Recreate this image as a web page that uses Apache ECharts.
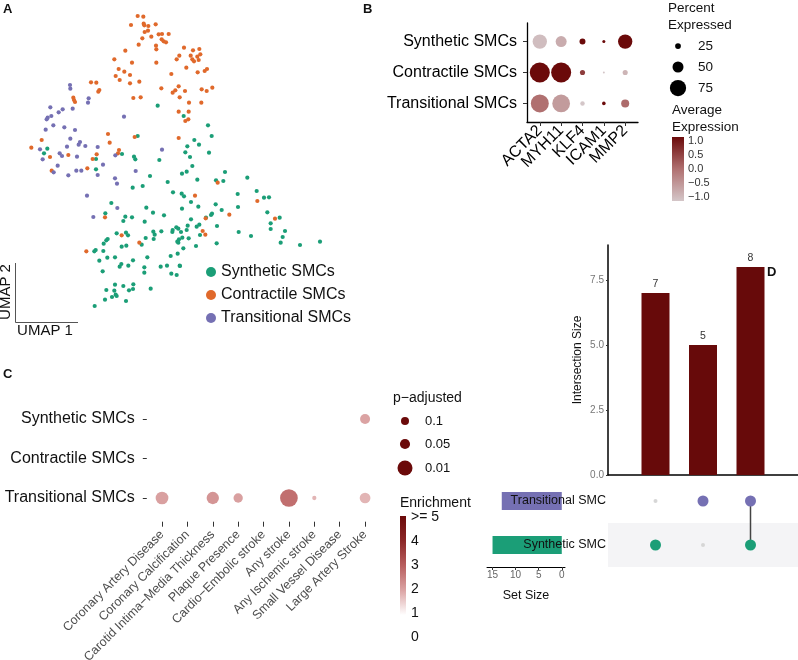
<!DOCTYPE html>
<html><head><meta charset="utf-8">
<script src="https://cdn.jsdelivr.net/npm/echarts@6/dist/echarts.min.js"></script>
<style>html,body{margin:0;padding:0;background:#fff}#c{width:798px;height:660px}</style>
</head><body><div id="c"></div>
<script>
// ---------- Panel A : UMAP embedding (UMAP1, UMAP2) ----------
const clusterNames = ['Synthetic SMCs', 'Contractile SMCs', 'Transitional SMCs'];
const clusterColors = ['#1B9E77', '#E0692B', '#7570B3'];
const syntheticUMAP = [
[473,317],[551,348],[624,376],[635,408],[583,420],[597,434],[562,439],[556,457],[570,471],[627,458],[577,498],[413,408],[402,470],[406,478],[366,462],[478,480],[142,446],[132,460],[288,477],[288,508],
[450,528],[398,563],[428,558],[503,546],[519,577],[334,609],[316,640],[376,650],[396,652],[370,663],[434,665],[439,623],[459,638],[492,646],[350,700],[378,698],[384,706],[323,717],[319,721],[311,731],[425,734],[437,714],[460,695],[464,704],[461,717],[484,694],[517,696],[535,686],[535,728],[533,761],[287,750],[283,754],[310,753],[298,782],[322,773],[345,772],[365,740],[379,737],[399,781],[442,772],[364,792],[359,800],[385,797],[308,814],[433,802],[433,818],[482,800],[501,797],[512,768],[514,821],[530,825],[539,797],[345,854],[370,858],[400,853],[319,870],[343,872],[347,884],[350,888],[336,891],[387,871],[399,867],[315,899],[378,903],[452,866],[284,918],
[560,515],[546,521],[592,539],[675,516],[648,541],[670,543],[742,533],[545,581],[552,589],[573,606],[595,620],[546,626],[647,613],[665,630],[713,582],[770,573],[792,593],[807,592],[714,621],[802,637],[839,653],[812,670],[812,687],[855,693],[848,711],[842,728],[900,735],[960,725],[753,708],[716,696],[651,678],[636,641],[633,645],[618,653],[598,674],[590,680],[573,658],[563,677],[560,690],[543,696],[529,682],[518,690],[537,718],[547,713],[600,705],[650,730],[588,738],[566,715],[532,725],[550,745],[540,798]
];
const contractileUMAP = [
[413,48],[430,50],[393,75],[431,71],[433,76],[445,78],[467,73],[434,96],[444,92],[454,110],[427,115],[476,103],[486,102],[506,102],[485,118],[491,124],[498,127],[468,137],[469,148],[416,134],[376,152],[343,178],[396,188],[469,188],[356,207],[373,215],[347,228],[359,240],[390,225],[390,250],[418,245],[273,247],[289,248],[298,270],[295,275],[220,293],[225,306],[222,300],[552,143],[579,151],[598,147],[538,167],[530,178],[572,167],[577,178],[582,184],[592,170],[601,163],[596,180],[559,203],[514,222],[593,217],[614,213],[621,207],[536,259],[526,271],[518,278],[555,273],[605,268],[620,273],[637,263],[484,265],[539,292],[567,308],[604,308],[536,335],[566,335],[565,358],[556,363],[400,294],[422,292],
[94,443],[125,420],[150,471],[205,465],[278,477],[290,463],[324,402],[329,428],[357,450],[354,460],[404,411],[536,414],[262,505],[155,512],
[653,548],[585,587],[772,603],[688,644],[617,655],[825,656],[608,693],[616,704],[315,652],[365,706],[418,728],[259,754]
];
const transitionalUMAP = [
[210,255],[211,266],[266,295],[264,308],[151,322],[188,328],[176,337],[218,326],[143,353],[154,348],[140,358],[160,376],[193,382],[225,390],[137,389],[372,350],[211,416],[240,426],[236,434],[201,440],[256,438],[293,441],[120,448],[179,460],[186,468],[231,470],[128,478],[173,497],[309,494],[486,449],[346,466],[161,517],[205,526],[229,512],[244,512],[293,525],[345,535],[351,551],[407,513],[261,587],[352,624],[280,651]
];

// ---------- Panel B : dot plot ----------
const genes = ['ACTA2', 'MYH11', 'KLF4', 'ICAM1', 'MMP2'];
const dotRows = ['Transitional SMCs', 'Contractile SMCs', 'Synthetic SMCs']; // bottom -> top
const pctSynthetic    = [66, 50, 26, 12, 66];
const pctContractile  = [93, 93, 22, 7, 22];
const pctTransitional = [83, 82, 19, 15, 36];
const avgSynthetic    = [-0.9, -0.7, 1.0, 1.0, 1.0];
const avgContractile  = [1.0, 1.0, 0.5, -1.0, -0.8];
const avgTransitional = [0.0, -0.5, -1.0, 1.0, 0.05];
const pctLegend = [25, 50, 75];
const avgTicks = [1.0, 0.5, 0.0, -0.5, -1.0];

// ---------- Panel C : enrichment ----------
const traits = ['Coronary Artery Disease', 'Coronary Calcification', 'Carotid Intima\u2212Media Thickness',
  'Plaque Presence', 'Cardio\u2212Embolic stroke', 'Any stroke', 'Any Ischemic stroke',
  'Small Vessel Disease', 'Large Artery Stroke'];
const enrichRows = ['Transitional SMCs', 'Contractile SMCs', 'Synthetic SMCs']; // bottom -> top
const padjTransitional  = [0.021, null, 0.024, 0.065, null, 0.0041, 0.34, null, 0.041];
const enrichTransitional = [2.05, null, 2.2, 2.05, null, 2.75, 1.8, null, 1.8];
const padjSynthetic  = [null, null, null, null, null, null, null, null, 0.052];
const enrichSynthetic = [null, null, null, null, null, null, null, null, 2.0];
const padjLegend = [0.1, 0.05, 0.01];
const enrichTicks = ['>= 5', '4', '3', '2', '1', '0'];

// ---------- Panel D : UpSet ----------
const setNames = ['Synthetic SMC', 'Transitional SMC']; // bottom -> top
const setSizes = [15, 13];
const setColors = ['#1B9E77', '#7570B3'];
const intersectionSizes = [7, 5, 8];
const inSynthetic    = [1, 0, 1];
const inTransitional = [0, 1, 1];
const interTicks = [0, 2.5, 5, 7.5];
const setTicks = [0, 5, 10, 15];

const FONT = '"Liberation Sans", Arial, Helvetica, sans-serif';
const chart = echarts.init(document.getElementById('c'), null, {renderer: 'canvas'});

const pctSize = p => p * 0.21 + 0.5;
const padjSize = p => 1 + 7 * (-Math.log10(p));

const bData = [];
[[pctTransitional, avgTransitional], [pctContractile, avgContractile], [pctSynthetic, avgSynthetic]].forEach((r, ri) => {
  genes.forEach((g, gi) => bData.push([gi + 1, ri + 1, r[0][gi], r[1][gi]]));
});
const cData = [];
[[padjTransitional, enrichTransitional, 1], [padjSynthetic, enrichSynthetic, 3]].forEach(r => {
  traits.forEach((t, ti) => { if (r[0][ti] != null) cData.push([ti + 1, r[2], r[0][ti], r[1][ti]]); });
});
const matData = [];
intersectionSizes.forEach((s, ci) => {
  [inSynthetic, inTransitional].forEach((m, si) => {
    matData.push({value: [ci + 1, si + 0.5], symbolSize: m[ci] ? 11 : 4,
      itemStyle: {color: m[ci] ? setColors[si] : '#d6d6d6'}});
  });
});
const matLines = [];
intersectionSizes.forEach((s, ci) => {
  if (inSynthetic[ci] && inTransitional[ci]) { matLines.push([ci + 1, 0.5], [ci + 1, 1.5], null); }
});

const noSplit = {show: false};
const txt = (text, x, y, size, opt) => Object.assign({
  type: 'text', x, y, silent: true,
  style: Object.assign({text, fill: '#111', font: size + 'px ' + FONT, textAlign: 'left', textVerticalAlign: 'middle'}, opt || {})
});
const avgGrad = new echarts.graphic.LinearGradient(0, 0, 0, 1, [
  {offset: 0, color: '#6b0a0a'}, {offset: 0.5, color: '#b07070'}, {offset: 1, color: '#d4c6c8'}]);
const enrGrad = new echarts.graphic.LinearGradient(0, 0, 0, 1, [
  {offset: 0, color: '#6b0a0a'}, {offset: 0.25, color: '#8c2727'}, {offset: 0.5, color: '#b85e5e'},
  {offset: 0.75, color: '#dba3a3'}, {offset: 1, color: '#ffffff'}]);

const graphic = [
  txt('A', 3, 9, 13, {font: 'bold 13px ' + FONT}),
  txt('B', 363, 9, 13, {font: 'bold 13px ' + FONT}),
  txt('C', 3, 374, 13, {font: 'bold 13px ' + FONT}),
  txt('D', 767, 272, 13, {font: 'bold 13px ' + FONT}),
  {type: 'polyline', silent: true, shape: {points: [[15.5, 263], [15.5, 322.5], [78, 322.5]]}, style: {stroke: '#555', lineWidth: 1, fill: null}},
  txt('UMAP 1', 45, 331, 15, {textAlign: 'center'}),
  Object.assign(txt('UMAP 2', 6, 292, 15, {textAlign: 'center'}), {rotation: Math.PI / 2}),
  txt('Percent', 668, 8, 13.5), txt('Expressed', 668, 25, 13.5),
  txt('Average', 672, 110, 13.5), txt('Expression', 672, 127, 13.5),
  {type: 'rect', silent: true, shape: {x: 672, y: 137, width: 12, height: 64}, style: {fill: avgGrad}},
  txt('p\u2212adjusted', 393, 398, 14),
  txt('Enrichment', 400, 503, 14),
  {type: 'rect', silent: true, shape: {x: 400, y: 516, width: 6, height: 99}, style: {fill: enrGrad}}
];
pctLegend.forEach((p, i) => {
  const y = [46, 67, 88][i];
  graphic.push({type: 'circle', silent: true, shape: {cx: 678, cy: y, r: pctSize(p) / 2}, style: {fill: '#000'}});
  graphic.push(txt(String(p), 698, y, 13.5));
});
avgTicks.forEach((v, i) => {
  graphic.push(txt(v < 0 ? '\u2212' + Math.abs(v).toFixed(1) : v.toFixed(1), 688, 141 + i * 14, 11, {fill: '#333'}));
});
padjLegend.forEach((p, i) => {
  const y = [421, 444, 468][i];
  graphic.push({type: 'circle', silent: true, shape: {cx: 405, cy: y, r: padjSize(p) / 2}, style: {fill: '#6b0a0a'}});
  graphic.push(txt(String(p), 425, y, 13));
});
enrichTicks.forEach((t, i) => graphic.push(txt(t, 411, 517 + i * 24, 14)));

const option = {
  backgroundColor: '#fff',
  animation: false,
  textStyle: {fontFamily: FONT},
  grid: [
    {left: 0, top: 0, width: 360, height: 340, outerBoundsMode: 'none'},
    {left: 527, top: 23, width: 111, height: 99, outerBoundsMode: 'none'},
    {left: 146.8, top: 395.3, width: 233.5, height: 126.4, outerBoundsMode: 'none'},
    {left: 608, top: 245, width: 190, height: 230, outerBoundsMode: 'none'},
    {left: 608, top: 479, width: 190, height: 88, outerBoundsMode: 'none'},
    {left: 487, top: 479, width: 78, height: 88, outerBoundsMode: 'none'},
    {left: 529.1, top: 23, width: 106.75, height: 99, outerBoundsMode: 'none'}
  ],
  xAxis: [
    {gridIndex: 0, type: 'value', min: 0, max: 1080, show: false},
    {gridIndex: 1, type: 'value', min: 0.4, max: 5.6, splitLine: noSplit,
      axisLine: {show: true, lineStyle: {color: '#000', width: 1.3}},
      axisTick: {show: true, customValues: [1, 2, 3, 4, 5], length: 4, lineStyle: {color: '#333'}},
      axisLabel: {show: false}},
    {gridIndex: 2, type: 'value', min: 0.4, max: 9.6, splitLine: noSplit, axisLine: {show: false},
      axisTick: {show: true, customValues: [1, 2, 3, 4, 5, 6, 7, 8, 9], length: 5, lineStyle: {color: '#333'}},
      axisLabel: {customValues: [1, 2, 3, 4, 5, 6, 7, 8, 9], formatter: v => traits[Math.round(v) - 1], rotate: 45, interval: 0,
        showMinLabel: true, showMaxLabel: true, hideOverlap: false,
        fontSize: 12.5, color: '#4d4d4d', margin: 11}},
    {gridIndex: 3, type: 'value', min: 0, max: 4, splitLine: noSplit,
      axisLine: {show: true, onZero: false, lineStyle: {color: '#000', width: 1.5}},
      axisTick: {show: false}, axisLabel: {show: false}},
    {gridIndex: 4, type: 'value', min: 0, max: 4, show: false},
    {gridIndex: 5, type: 'value', min: -0.7, max: 16.2, inverse: true, splitLine: noSplit,
      axisLine: {show: true, onZero: false, lineStyle: {color: '#000', width: 1}},
      axisTick: {show: true, customValues: setTicks, length: 3, lineStyle: {color: '#333'}},
      axisLabel: {customValues: setTicks, fontSize: 10, color: '#666', margin: 3, interval: 0, showMinLabel: true, showMaxLabel: true},
      name: 'Set Size', nameLocation: 'middle', nameGap: 22, nameTextStyle: {fontSize: 12.5, color: '#111'}},
    {gridIndex: 6, type: 'category', data: genes, axisLine: {show: false}, axisTick: {show: false}, splitLine: noSplit,
      axisLabel: {interval: 0, rotate: 45, fontSize: 16, color: '#000', margin: 6, hideOverlap: false}}
  ],
  yAxis: [
    {gridIndex: 0, type: 'value', min: 0, max: 1020, inverse: true, show: false},
    {gridIndex: 1, type: 'value', min: 0.4, max: 3.6, splitLine: noSplit,
      axisLine: {show: true, lineStyle: {color: '#000', width: 1.3}},
      axisTick: {show: true, customValues: [1, 2, 3], length: 4, lineStyle: {color: '#333'}},
      axisLabel: {customValues: [1, 2, 3], formatter: v => dotRows[Math.round(v) - 1], fontSize: 16, color: '#000', margin: 10,
        interval: 0, showMinLabel: true, showMaxLabel: true}},
    {gridIndex: 2, type: 'value', min: 0.4, max: 3.6, splitLine: noSplit, axisLine: {show: false},
      axisTick: {show: true, customValues: [1, 2, 3], length: 4, lineStyle: {color: '#333'}},
      axisLabel: {customValues: [1, 2, 3], formatter: v => enrichRows[Math.round(v) - 1], fontSize: 16, color: '#111', margin: 12,
        interval: 0, showMinLabel: true, showMaxLabel: true}},
    {gridIndex: 3, type: 'value', min: 0, max: 8.85, splitLine: noSplit,
      axisLine: {show: true, onZero: false, lineStyle: {color: '#000', width: 1.5}},
      axisTick: {show: true, customValues: interTicks, length: 2, lineStyle: {color: '#333'}},
      axisLabel: {customValues: interTicks, formatter: v => v.toFixed(1), fontSize: 10, color: '#777', margin: 4,
        interval: 0, showMinLabel: true, showMaxLabel: true},
      name: 'Intersection Size', nameLocation: 'middle', nameGap: 24, nameRotate: 90,
      nameTextStyle: {fontSize: 12, color: '#111'}},
    {gridIndex: 4, type: 'value', min: 0, max: 2, z: 10, splitLine: noSplit, axisLine: {show: false}, axisTick: {show: false},
      axisLabel: {customValues: [0.5, 1.5], formatter: v => setNames[Math.round(v - 0.5)], fontSize: 12.5, color: '#111', margin: 2,
        interval: 0, showMinLabel: true, showMaxLabel: true}},
    {gridIndex: 5, type: 'category', data: setNames, show: false},
    {gridIndex: 6, type: 'value', show: false}
  ],
  legend: [{
    data: clusterNames, orient: 'vertical', left: 201, top: 255.5, icon: 'circle',
    itemWidth: 10, itemHeight: 10, itemGap: 0, selectedMode: false,
    textStyle: {fontSize: 16, color: '#111', lineHeight: 23, fontFamily: FONT}
  }],
  visualMap: [
    {type: 'continuous', show: false, seriesIndex: 3, dimension: 3, min: -1, max: 1,
      inRange: {color: ['#d4c6c8', '#b07070', '#6b0a0a']}},
    {type: 'continuous', show: false, seriesIndex: 4, dimension: 3, min: 1, max: 5,
      inRange: {color: ['#ffffff', '#dba3a3', '#b85e5e', '#8c2727', '#6b0a0a']}}
  ],
  series: [
    {name: clusterNames[0], type: 'scatter', xAxisIndex: 0, yAxisIndex: 0, data: syntheticUMAP, symbolSize: 4.2, itemStyle: {color: clusterColors[0], opacity: 1}},
    {name: clusterNames[1], type: 'scatter', xAxisIndex: 0, yAxisIndex: 0, data: contractileUMAP, symbolSize: 4.2, itemStyle: {color: clusterColors[1], opacity: 1}},
    {name: clusterNames[2], type: 'scatter', xAxisIndex: 0, yAxisIndex: 0, data: transitionalUMAP, symbolSize: 4.2, itemStyle: {color: clusterColors[2], opacity: 1}},
    {type: 'scatter', xAxisIndex: 1, yAxisIndex: 1, data: bData, symbolSize: d => pctSize(d[2]), itemStyle: {opacity: 1}},
    {type: 'scatter', xAxisIndex: 2, yAxisIndex: 2, data: cData, symbolSize: d => padjSize(d[2]), itemStyle: {opacity: 1}},
    {type: 'bar', xAxisIndex: 3, yAxisIndex: 3, barWidth: 28,
      data: intersectionSizes.map((v, i) => [i + 1, v]), itemStyle: {color: '#670a0a'},
      label: {show: true, position: 'top', distance: 3, fontSize: 10.5, color: '#333', formatter: p => p.value[1]}},
    {type: 'line', xAxisIndex: 4, yAxisIndex: 4, data: matLines, symbol: 'none', z: 1,
      lineStyle: {color: '#444', width: 1.5}, connectNulls: false,
      markArea: {silent: true, itemStyle: {color: '#f4f4f6'}, data: [[{xAxis: 0, yAxis: 0}, {xAxis: 4, yAxis: 1}]]}},
    {type: 'scatter', xAxisIndex: 4, yAxisIndex: 4, data: matData, z: 3, itemStyle: {opacity: 1}},
    {type: 'bar', xAxisIndex: 5, yAxisIndex: 5, barWidth: 18,
      data: setSizes.map((v, i) => ({value: v, itemStyle: {color: setColors[i]}}))}
  ],
  graphic: graphic
};
chart.setOption(option);
</script>
</body></html>
